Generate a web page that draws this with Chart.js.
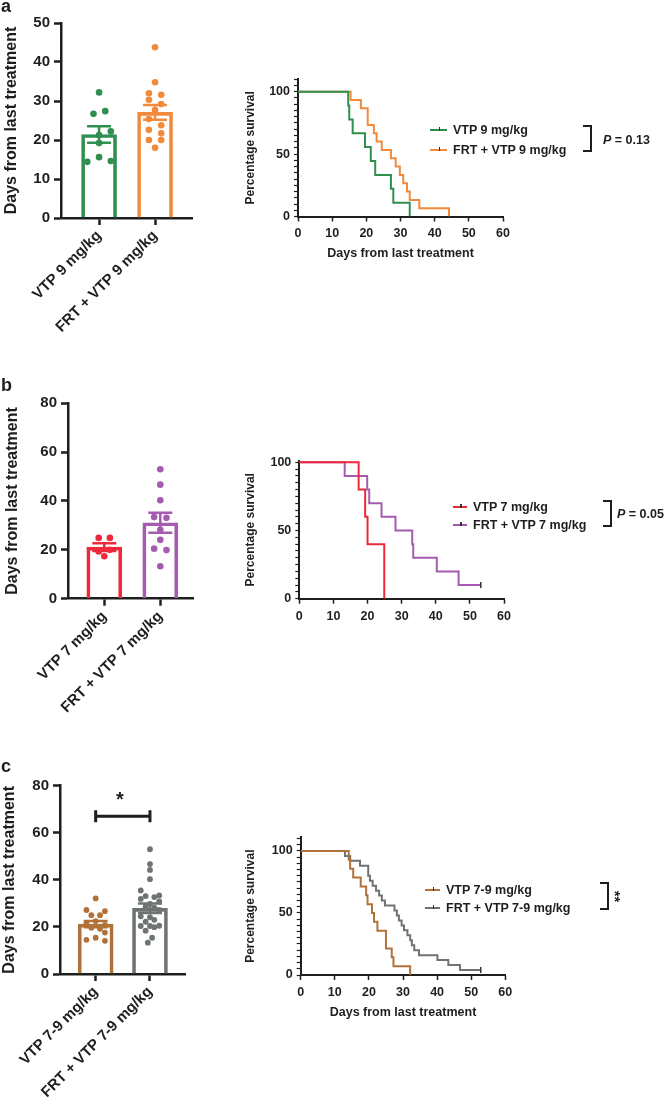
<!DOCTYPE html>
<html>
<head>
<meta charset="utf-8">
<script src="https://cdn.jsdelivr.net/npm/chart.js@4.4.1/dist/chart.umd.min.js"></script>
<style>
  body { margin: 0; width: 665px; height: 1112px; background: #fff; position: relative; overflow: hidden;
         font-family: 'Liberation Sans', Arial, Helvetica, sans-serif; }
  canvas { position: absolute; }
  .txt { position: absolute; font-weight: bold; color: #1e1e1e; white-space: nowrap; }
  .letter { font-size: 18px; line-height: 18px; }
  .leg { font-size: 12.5px; line-height: 14px; }
  .mk { position: absolute; height: 2px; }
  .mk::after { content: ''; position: absolute; left: 50%; top: -2px; width: 1.5px; height: 4px; background: #333; }
  .brk { position: absolute; border: 2px solid #1e1e1e; border-left: none; box-sizing: border-box; }
</style>
</head>
<body>

<canvas id="barA" width="200" height="360" style="left:0;top:0"></canvas>
<canvas id="survA" width="300" height="210" style="left:220px;top:60px"></canvas>
<canvas id="barB" width="200" height="370" style="left:0;top:380px"></canvas>
<canvas id="survB" width="300" height="200" style="left:220px;top:440px"></canvas>
<canvas id="barC" width="200" height="357" style="left:0;top:755px"></canvas>
<canvas id="survC" width="300" height="215" style="left:220px;top:815px"></canvas>

<div class="txt letter" style="left:1px;top:-3px">a</div>
<div class="txt letter" style="left:1px;top:376px">b</div>
<div class="txt letter" style="left:1px;top:757px">c</div>

<!-- legends -->
<div class="mk" style="left:430px;top:129px;width:17px;background:#2f8f4f"></div>
<div class="txt leg" style="left:453px;top:123px">VTP 9 mg/kg</div>
<div class="mk" style="left:430px;top:149px;width:17px;background:#f28a3c"></div>
<div class="txt leg" style="left:453px;top:143px">FRT + VTP 9 mg/kg</div>
<div class="brk" style="left:583px;top:125px;width:9px;height:27px"></div>
<div class="txt leg" style="left:603px;top:133px"><i>P</i> = 0.13</div>

<div class="mk" style="left:453px;top:506px;width:14px;background:#ec2a3a"></div>
<div class="txt leg" style="left:473px;top:500px">VTP 7 mg/kg</div>
<div class="mk" style="left:453px;top:524px;width:14px;background:#a55bb0"></div>
<div class="txt leg" style="left:473px;top:518px">FRT + VTP 7 mg/kg</div>
<div class="brk" style="left:603px;top:500px;width:9px;height:27px"></div>
<div class="txt leg" style="left:617px;top:507px"><i>P</i> = 0.05</div>

<div class="mk" style="left:425px;top:889px;width:15px;background:#b07238"></div>
<div class="txt leg" style="left:446px;top:883px">VTP 7-9 mg/kg</div>
<div class="mk" style="left:425px;top:907px;width:15px;background:#6e7373"></div>
<div class="txt leg" style="left:446px;top:901px">FRT + VTP 7-9 mg/kg</div>
<div class="brk" style="left:600px;top:882px;width:9px;height:28px"></div>
<div class="txt" style="left:610px;top:888px;font-size:15px;transform:rotate(90deg)">**</div>

<div class="txt" style="left:116px;top:788px;font-size:20px">*</div>

<script>
// ---- panel a ----
const catsA = ['VTP 9 mg/kg', 'FRT + VTP 9 mg/kg'];
const meanA = [21.4, 27.1];
const semA = [2.1, 1.9];
const dotsA1 = [32.2, 26.7, 27.4, 21.3, 22.2, 19.2, 14.4, 15.6, 14.6];
const jitA1 = [0, -0.1, 0.11, 0, 0.21, 0, -0.21, 0, 0.21];
const dotsA2 = [43.8, 34.8, 32.0, 31.6, 30.3, 29.2, 27.7, 25.4, 23.8, 22.6, 21.7, 20.0, 20.0, 18.0];
const jitA2 = [0, 0, -0.11, 0.11, -0.11, 0.11, 0, -0.11, 0.11, -0.11, 0.11, -0.11, 0.11, 0];
const barTicksA = [0, 10, 20, 30, 40, 50];

const daysA1 = [0, 14.7, 15.0, 16.0, 19.6, 21.3, 22.6, 27.2, 27.9, 32.7];
const survA1 = [100, 88.9, 77.8, 66.7, 55.6, 44.4, 33.3, 22.2, 11.1, 0];
const daysA2 = [0, 15.4, 18.4, 20.4, 22.2, 23.0, 24.5, 27.2, 28.6, 29.8, 30.8, 31.9, 32.7, 35.5, 44.2];
const survA2 = [100, 93.3, 86.7, 73.3, 66.7, 60, 53.3, 46.7, 40, 33.3, 26.7, 20, 13.3, 6.7, 0];

// ---- panel b ----
const catsB = ['VTP 7 mg/kg', 'FRT + VTP 7 mg/kg'];
const meanB = [21.1, 31.1];
const semB = [1.6, 4.1];
const dotsB1 = [24.9, 24.9, 20.0, 19.3, 17.4];
const jitB1 = [-0.1, 0.1, 0.1, -0.1, 0];
const dotsB2 = [53.0, 46.7, 40.3, 33.4, 33.1, 28.2, 24.1, 20.5, 19.9, 13.3];
const jitB2 = [0, 0, 0, -0.11, 0.11, 0, 0, -0.11, 0.11, 0];
const barTicksB = [0, 20, 40, 60, 80];

const daysB1 = [0, 17.4, 19.3, 20.0, 24.9];
const survB1 = [100, 80, 60, 40, 0];
const daysB2 = [0, 13.3, 19.9, 20.5, 24.1, 28.2, 33.1, 33.4, 40.3, 46.7, 53.2];
const survB2 = [100, 90, 80, 70, 60, 50, 40, 30, 20, 10, 10];

// ---- panel c ----
const catsC = ['VTP 7-9 mg/kg', 'FRT + VTP 7-9 mg/kg'];
const meanC = [21.2, 27.9];
const semC = [1.3, 2.0];
const dotsC1 = [32.1, 27.2, 26.7, 25.0, 25.0, 22.5, 21.5, 20.9, 19.6, 19.2, 17.6, 15.4, 14.5, 14.1];
const jitC1 = [0, -0.17, 0.17, -0.08, 0.08, 0, -0.17, 0.17, -0.08, 0.08, 0.17, 0, -0.17, 0.17];
const dotsC2 = [53.0, 46.7, 44.2, 40.3, 35.5, 33.4, 33.1, 32.7, 31.9, 30.8, 29.8, 28.6, 28.2, 27.2,
                24.5, 24.1, 23.0, 22.2, 20.5, 20.4, 20.4, 19.9, 18.4, 15.4, 13.3];
const jitC2 = [0, 0, 0, 0, -0.17, 0.17, -0.08, 0.08, -0.17, 0.17, 0, -0.08, 0.08, 0.17,
               -0.17, 0, 0.08, -0.08, 0.17, -0.17, 0, 0.08, -0.08, 0.04, -0.04];
const barTicksC = [0, 20, 40, 60, 80];
const sigC = 67; // comparison bar height

const daysC1 = [0, 14.1, 14.5, 15.4, 17.6, 19.2, 19.6, 20.9, 21.5, 22.5, 25.0, 26.7, 27.2, 32.1];
const survC1 = [100, 92.9, 85.7, 78.6, 71.4, 64.3, 57.1, 50, 42.9, 35.7, 21.4, 14.3, 7.1, 0];
const daysC2 = [0, 13.0, 14.5, 17.4, 19.8, 20.3, 21.1, 22.1, 23.0, 23.8, 24.7, 27.5, 28.2, 28.8,
                29.6, 30.3, 31.3, 32.1, 32.6, 33.3, 34.7, 40.1, 43.3, 46.7, 52.8];
const survC2 = [100, 96, 92, 88, 80, 76, 72, 68, 64, 60, 56, 52, 48, 44,
                40, 36, 32, 28, 24, 20, 16, 12, 8, 4, 4];

const survTicks110 = [0, 5, 10, 15, 20, 25, 30, 35, 40, 45, 50, 55, 60, 65, 70, 75, 80, 85, 90, 95, 100, 105, 110];
const survTicks100 = [0, 5, 10, 15, 20, 25, 30, 35, 40, 45, 50, 55, 60, 65, 70, 75, 80, 85, 90, 95, 100];

const AX = '#1e1e1e';
const FONT = "'Liberation Sans', Arial, Helvetica, sans-serif";
Chart.defaults.font.family = FONT;
Chart.defaults.color = AX;

function barChart(id, c) {
    const datasets = [{
        type: 'bar',
        data: c.means.map((m, i) => ({x: i + 1, y: m})),
        backgroundColor: 'rgba(255,255,255,0)',
        borderColor: c.colors,
        borderWidth: 3,
        borderSkipped: 'bottom',
        barThickness: 35,
        order: 2
    }];
    c.dots.forEach((vals, g) => {
        datasets.push({
            type: 'scatter',
            data: vals.map((v, k) => ({x: g + 1 + c.jit[g][k], y: v})),
            backgroundColor: c.colors[g],
            borderWidth: 0,
            pointRadius: c.dotR,
            order: 1
        });
    });

    // SEM error bars + optional significance bracket
    const extras = {
        id: 'extras' + id,
        afterDatasetsDraw(chart) {
            const ctx = chart.ctx, x = chart.scales.x, y = chart.scales.y;
            ctx.save();
            ctx.lineWidth = 2.5;
            c.means.forEach((m, i) => {
                const cx = x.getPixelForValue(i + 1);
                const t = y.getPixelForValue(m + c.sems[i]);
                const b = y.getPixelForValue(m - c.sems[i]);
                ctx.strokeStyle = c.colors[i];
                ctx.beginPath();
                ctx.moveTo(cx, t); ctx.lineTo(cx, b);
                ctx.moveTo(cx - 12, t); ctx.lineTo(cx + 12, t);
                ctx.moveTo(cx - 12, b); ctx.lineTo(cx + 12, b);
                ctx.stroke();
            });
            if (c.sig) {
                const sy = y.getPixelForValue(c.sig);
                const x1 = x.getPixelForValue(1), x2 = x.getPixelForValue(2);
                ctx.strokeStyle = AX;
                ctx.lineWidth = 3;
                ctx.beginPath();
                ctx.moveTo(x1, sy); ctx.lineTo(x2, sy);
                ctx.moveTo(x1, sy - 6); ctx.lineTo(x1, sy + 6);
                ctx.moveTo(x2, sy - 6); ctx.lineTo(x2, sy + 6);
                ctx.stroke();
            }
            ctx.restore();
        }
    };

    return new Chart(document.getElementById(id), {
        type: 'bar',
        data: {datasets},
        plugins: [extras],
        options: {
            responsive: false,
            animation: false,
            events: [],
            layout: {padding: {top: c.padT, right: c.padR, left: 0, bottom: 0}},
            plugins: {legend: {display: false}, tooltip: {enabled: false}},
            scales: {
                x: {
                    type: 'linear',
                    offset: false,
                    min: c.xMin,
                    max: c.xMax,
                    afterBuildTicks: s => { s.ticks = c.cats.map((_, i) => ({value: i + 1})); },
                    afterFit: s => { s.height = c.xH; },
                    ticks: {
                        callback: (v, i) => c.cats[i],
                        minRotation: 45,
                        maxRotation: 45,
                        autoSkip: false,
                        padding: 2,
                        color: AX,
                        font: {size: 15, weight: 'bold'}
                    },
                    grid: {offset: false, drawOnChartArea: false, tickLength: 7, tickWidth: 2.5, tickColor: AX},
                    border: {color: AX, width: 2.5}
                },
                y: {
                    min: 0,
                    max: c.ticks[c.ticks.length - 1],
                    afterBuildTicks: s => { s.ticks = c.ticks.map(v => ({value: v})); },
                    afterFit: s => { s.width = c.yW; },
                    ticks: {padding: 4, color: AX, font: {size: 15, weight: 'bold'}},
                    title: {
                        display: true,
                        text: 'Days from last treatment',
                        color: AX,
                        font: {size: 16, weight: 'bold'},
                        padding: {top: c.titleP, bottom: 0}
                    },
                    grid: {drawOnChartArea: false, tickLength: 7, tickWidth: 2.5, tickColor: AX},
                    border: {color: AX, width: 2.5}
                }
            }
        }
    });
}

function survChart(id, c) {
    const datasets = c.curves.map((cv, i) => ({
        type: 'line',
        data: cv.days.map((d, k) => ({x: d, y: cv.surv[k]})),
        stepped: true,
        borderColor: c.colors[i],
        borderWidth: 2,
        fill: false,
        pointStyle: 'line',
        rotation: 90,
        pointBorderWidth: 1.5,
        pointBorderColor: '#333',
        pointRadius: ctx => (cv.censored && ctx.dataIndex === cv.days.length - 1 ? 3 : 0)
    }));

    return new Chart(document.getElementById(id), {
        type: 'line',
        data: {datasets},
        options: {
            responsive: false,
            animation: false,
            events: [],
            layout: {padding: {top: c.padT, right: c.padR, left: 0, bottom: 0}},
            plugins: {legend: {display: false}, tooltip: {enabled: false}},
            scales: {
                x: {
                    type: 'linear',
                    min: 0,
                    max: 60,
                    ticks: {stepSize: 10, padding: 5, color: AX, font: {size: 12.5, weight: 'bold'}},
                    afterFit: s => { s.height = c.xH; },
                    title: {
                        display: c.xTitle,
                        text: 'Days from last treatment',
                        color: AX,
                        font: {size: 12.5, weight: 'bold'},
                        padding: {top: 0, bottom: c.xTitleP}
                    },
                    grid: {drawOnChartArea: false, tickLength: 5, tickWidth: 1.5, tickColor: AX},
                    border: {color: AX, width: 2}
                },
                y: {
                    min: 0,
                    max: c.yMax,
                    afterBuildTicks: s => { s.ticks = c.yTicks.map(v => ({value: v})); },
                    afterFit: s => { s.width = c.yW; },
                    ticks: {
                        callback: v => (v % 50 === 0 && v <= 100 ? v : ''),
                        autoSkip: false,
                        padding: 4,
                        color: AX,
                        font: {size: 12.5, weight: 'bold'}
                    },
                    title: {
                        display: true,
                        text: 'Percentage survival',
                        color: AX,
                        font: {size: 12, weight: 'bold'},
                        padding: {top: c.yTitleP, bottom: 0}
                    },
                    grid: {drawOnChartArea: false, tickLength: 4, tickWidth: 1.2, tickColor: AX},
                    border: {color: AX, width: 2}
                }
            }
        }
    });
}

barChart('barA', {
    cats: catsA, means: meanA, sems: semA, dots: [dotsA1, dotsA2], jit: [jitA1, jitA2],
    colors: ['#2f8f4f', '#f28a3c'], ticks: barTicksA, dotR: 3.3,
    xMin: 0.32, xMax: 2.66, yW: 61, padT: 23, padR: 8, xH: 142, titleP: 1.5
});
barChart('barB', {
    cats: catsB, means: meanB, sems: semB, dots: [dotsB1, dotsB2], jit: [jitB1, jitB2],
    colors: ['#ec2a3a', '#a55bb0'], ticks: barTicksB, dotR: 3.3,
    xMin: 0.352, xMax: 2.584, yW: 68, padT: 23.3, padR: 7, xH: 151.3, titleP: 3
});
barChart('barC', {
    cats: catsC, means: meanC, sems: semC, dots: [dotsC1, dotsC2], jit: [jitC1, jitC2],
    colors: ['#b07238', '#6e7373'], ticks: barTicksC, dotR: 2.9, sig: sigC,
    xMin: 0.343, xMax: 2.645, yW: 60, padT: 30.7, padR: 15, xH: 138, titleP: 0
});

survChart('survA', {
    curves: [{days: daysA1, surv: survA1}, {days: daysA2, surv: survA2}],
    colors: ['#2f8f4f', '#f28a3c'], yMax: 110, yTicks: survTicks110,
    yW: 78, padT: 19.2, padR: 17, xH: 53.5, xTitle: true, xTitleP: 8.5, yTitleP: 23.8
});
survChart('survB', {
    curves: [{days: daysB1, surv: survB1}, {days: daysB2, surv: survB2, censored: true}],
    colors: ['#ec2a3a', '#a55bb0'], yMax: 101, yTicks: survTicks100,
    yW: 79.3, padT: 20.9, padR: 16, xH: 41.3, xTitle: false, xTitleP: 0, yTitleP: 23.8
});
survChart('survC', {
    curves: [{days: daysC1, surv: survC1}, {days: daysC2, surv: survC2, censored: true}],
    colors: ['#b07238', '#6e7373'], yMax: 111, yTicks: survTicks110,
    yW: 80.7, padT: 22.3, padR: 14.7, xH: 55, xTitle: true, xTitleP: 9.8, yTitleP: 23.8
});
</script>
</body>
</html>
